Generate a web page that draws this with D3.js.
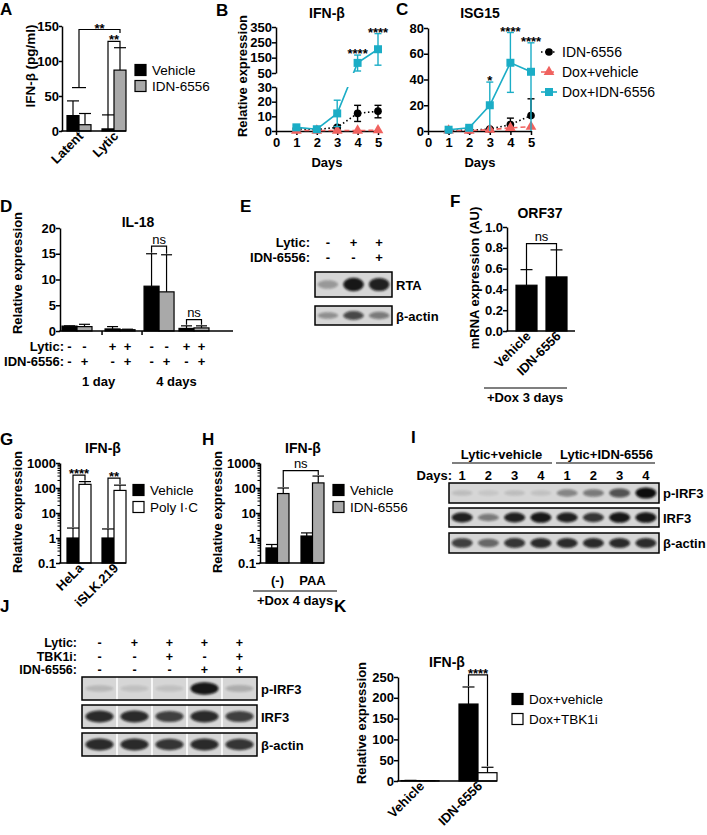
<!DOCTYPE html>
<html lang="en">
<head>
<meta charset="UTF-8">
<title>IFN figure</title>
<script src="https://d3js.org/d3.v7.min.js"></script>
<style>
  body { margin: 0; background: #fff; }
  svg { display: block; font-family: "Liberation Sans", Arial, Helvetica, sans-serif; }
  .axis path, .axis line { stroke: #000; stroke-width: 1.5; }
  .axis text { font-family: "Liberation Sans", Arial, sans-serif; font-size: 13px; font-weight: bold; fill: #000; }
</style>
</head>
<body>
<div id="fig"></div>
<script>
// ---------- data ----------
// A: IFN-b protein
const aGroups = ["Latent", "Lytic"];
const aSeries = ["Vehicle", "IDN-6556"];
const aMeans = [[22, 9], [3, 87]];
const aErrTop = [[43, 25], [23, 119]];

// B / C: time course
const days = [1, 2, 3, 4, 5];
const lineSeries = ["IDN-6556", "Dox+vehicle", "Dox+IDN-6556"];
const bIdn = [1.5, 1, 2.5, 12, 13.5];
const bIdnLo = [1, 0.5, 1.5, 6.5, 9];
const bIdnHi = [2, 1.5, 3.5, 17.5, 17.5];
const bDoxVeh = [0.3, 0.3, 0.3, 0.3, 0.5];
const bDoxIdn = [2.5, 1.2, 12, 116, 205];
const bDoxIdnLo = [1.5, 0.8, 3, 63, 101];
const bDoxIdnHi = [3.5, 1.6, 21, 167, 307];
const bStars = ["", "", "", "****", "****"];

const cIdn = [0.5, 0.5, 1.5, 5, 12];
const cIdnHi = [0.8, 0.8, 2, 10, 25];
const cDoxVeh = [0.5, 0.3, 1, 2.5, 3.3];
const cDoxIdn = [1, 2.5, 20, 53, 46];
const cDoxIdnLo = [0.5, 1.5, 0, 30, 0];
const cDoxIdnHi = [1.5, 3.5, 38, 76.5, 68.5];
const cStars = ["", "", "*", "****", "****"];

// D: IL-18
const dLytic = ["-", "-", "+", "+", "-", "-", "+", "+"];
const dIdn = ["-", "+", "-", "+", "-", "+", "-", "+"];
const dDays = ["1 day", "4 days"];
const dMeans = [0.95, 0.85, 0.4, 0.25, 8.7, 7.6, 0.5, 0.6];
const dErrTop = [1.0, 1.3, 0.85, 0.35, 15, 14.8, 1.0, 1.0];

// E: RTA blot
const eLytic = ["-", "+", "+"];
const eIdn = ["-", "-", "+"];
const eRTA = [0.3, 0.95, 0.9];
const eActin = [0.35, 0.7, 0.45];

// F: ORF37
const fGroups = ["Vehicle", "IDN-6556"];
const fMeans = [0.44, 0.52];
const fErrTop = [0.59, 0.78];

// G / H: log IFN-b
const gGroups = ["HeLa", "iSLK.219"];
const gSeries = ["Vehicle", "Poly I\u00b7C"];
const gMeans = [[1, 140], [1, 80]];
const gErrTop = [[2.5, 180], [2.3, 130]];

const hGroups = ["(-)", "PAA"];
const hSeries = ["Vehicle", "IDN-6556"];
const hMeans = [[0.4, 60], [1.2, 160]];
const hErrTop = [[0.55, 100], [1.6, 300]];

// I: IRF3 blot
const iDays = [1, 2, 3, 4, 1, 2, 3, 4];
const iPIRF3 = [0.12, 0.08, 0.12, 0.1, 0.4, 0.45, 0.65, 1];
const iIRF3 = [0.9, 0.45, 0.9, 0.95, 0.9, 0.8, 0.95, 0.95];
const iActin = [0.75, 0.55, 0.8, 0.85, 0.85, 0.85, 0.85, 0.85];

// J: TBK1i blot
const jLytic = ["-", "+", "+", "+", "+"];
const jTbk = ["-", "-", "+", "-", "+"];
const jIdn = ["-", "-", "-", "+", "+"];
const jPIRF3 = [0.15, 0.1, 0.1, 0.95, 0.2];
const jIRF3 = [0.85, 0.85, 0.75, 0.85, 0.75];
const jActin = [0.85, 0.85, 0.8, 0.85, 0.8];

// K: TBK1i IFN-b
const kGroups = ["Vehicle", "IDN-6556"];
const kSeries = ["Dox+vehicle", "Dox+TBK1i"];
const kMeans = [[1, 0.5], [185, 20]];
const kErrTop = [[1.5, 0.8], [226, 33]];

// ---------- setup ----------
const TEAL = "#1badc6", RED = "#f0625f", GREY = "#a9a9a9";

const svg = d3.select("#fig").append("svg").attr("width", 707).attr("height", 835);
svg.append("rect").attr("width", 707).attr("height", 835).attr("fill", "#fff");
const defs = svg.append("defs");
defs.append("filter").attr("id", "blur").attr("x", "-50%").attr("y", "-50%").attr("width", "200%").attr("height", "200%")
  .append("feGaussianBlur").attr("stdDeviation", 1.3);

function txt(x, y, s, o = {}) {
  return svg.append("text").attr("x", x).attr("y", y).text(s)
    .attr("font-size", o.size || 13).attr("font-weight", o.weight || "bold")
    .attr("text-anchor", o.anchor || "start").attr("fill", "#000");
}
function letter(x, y, s) { txt(x, y, s, { size: 17 }); }
function title(cx, y, s) { txt(cx, y, s, { size: 14, anchor: "middle" }); }
function yLabel(cx, cy, s, size = 13) {
  svg.append("text").attr("transform", `translate(${cx},${cy}) rotate(-90)`)
    .attr("dy", "0.35em").attr("text-anchor", "middle")
    .attr("font-size", size).attr("font-weight", "bold").text(s);
}
function rotLabel(x, y, s) {
  svg.append("text").attr("transform", `translate(${x},${y}) rotate(-45)`)
    .attr("text-anchor", "end").attr("font-size", 13).attr("font-weight", "bold").text(s);
}
function yAxis(scale, x, ticks, fmt, size = 4) {
  const ax = d3.axisLeft(scale).tickValues(ticks).tickSize(size).tickSizeOuter(0).tickPadding(0);
  if (fmt) ax.tickFormat(fmt);
  return svg.append("g").attr("class", "axis").attr("transform", `translate(${x},0)`).call(ax);
}
function minorLogTicks(scale, x) {
  const vals = [];
  [0.1, 1, 10, 100].forEach(d => { for (let k = 2; k <= 9; k++) vals.push(d * k); });
  svg.append("g").selectAll("line").data(vals).join("line")
    .attr("x1", x - 2.5).attr("x2", x).attr("y1", d => scale(d)).attr("y2", d => scale(d))
    .attr("stroke", "#000").attr("stroke-width", 1);
}
function hline(x1, x2, y, w = 1.5) {
  svg.append("line").attr("x1", x1).attr("x2", x2).attr("y1", y).attr("y2", y)
    .attr("stroke", "#000").attr("stroke-width", w);
}
function bracket(x1, x2, yTop, yb1, yb2, label, stars = true) {
  svg.append("path").attr("d", `M${x1},${yb1}V${yTop}H${x2}V${yb2}`)
    .attr("fill", "none").attr("stroke", "#000").attr("stroke-width", 1.2);
  if (stars) txt((x1 + x2) / 2, yTop + 3, label, { anchor: "middle" });
  else txt((x1 + x2) / 2, yTop - 2.5, label, { anchor: "middle", weight: "normal" });
}
function signRow(xs, y, signs, size = 13) {
  signs.forEach((s, i) => txt(xs[i], y, s, { anchor: "middle", size }));
}
function legendBoxes(x, ys, labels, fills, size = 13.5) {
  labels.forEach((l, i) => {
    svg.append("rect").attr("x", x).attr("y", ys[i] - 5.5).attr("width", 11).attr("height", 11)
      .attr("fill", fills[i]).attr("stroke", "#000").attr("stroke-width", 1.2);
    txt(x + 17, ys[i] + 5, l, { size, weight: "normal" });
  });
}

// grouped bar chart
function groupedBars(groups, series, means, errTop, x, y, base, fills) {
  const xin = d3.scaleBand().domain(series).range([0, x.bandwidth()]);
  const rows = groups.flatMap((g, gi) => series.map((s, si) => ({ g, s, si, v: means[gi][si], e: errTop[gi][si] })));
  const w = xin.bandwidth(), cap = Math.min(6, w / 2);
  const gg = svg.append("g");
  gg.selectAll("line.err").data(rows).join("line").attr("class", "err")
    .attr("x1", d => x(d.g) + xin(d.s) + w / 2).attr("x2", d => x(d.g) + xin(d.s) + w / 2)
    .attr("y1", d => y(d.v)).attr("y2", d => y(d.e)).attr("stroke", "#000").attr("stroke-width", 1.2);
  gg.selectAll("line.cap").data(rows).join("line").attr("class", "cap")
    .attr("x1", d => x(d.g) + xin(d.s) + w / 2 - cap).attr("x2", d => x(d.g) + xin(d.s) + w / 2 + cap)
    .attr("y1", d => y(d.e)).attr("y2", d => y(d.e)).attr("stroke", "#000").attr("stroke-width", 1.2);
  gg.selectAll("rect").data(rows).join("rect")
    .attr("x", d => x(d.g) + xin(d.s)).attr("y", d => y(d.v))
    .attr("width", w).attr("height", d => base - y(d.v))
    .attr("fill", d => fills[d.si]).attr("stroke", "#000").attr("stroke-width", 1.2);
  return d => x(d[0]) + xin(d[1]) + w / 2; // center lookup [group, series]
}

// western blot strip
function blot(lanes, y0, h, vals, label, splice) {
  const [x0, x1] = lanes.range();
  svg.append("rect").attr("x", x0).attr("y", y0).attr("width", x1 - x0).attr("height", h).attr("fill", "#d6d6d6");
  svg.append("g").selectAll("ellipse").data(vals).join("ellipse")
    .attr("cx", (d, i) => lanes(i) + lanes.bandwidth() / 2).attr("cy", y0 + h / 2)
    .attr("rx", lanes.bandwidth() * 0.4).attr("ry", d => h * (0.12 + 0.16 * d))
    .attr("fill", "#0a0a0a").attr("opacity", d => d).attr("filter", "url(#blur)");
  if (splice) {
    svg.append("g").selectAll("line").data(d3.range(1, vals.length)).join("line")
      .attr("x1", i => lanes(i)).attr("x2", i => lanes(i)).attr("y1", y0).attr("y2", y0 + h)
      .attr("stroke", "#fff").attr("stroke-width", 2).attr("opacity", 0.8);
  }
  svg.append("rect").attr("x", x0).attr("y", y0).attr("width", x1 - x0).attr("height", h)
    .attr("fill", "none").attr("stroke", "#000").attr("stroke-width", 1.5);
  txt(x1 + 4, y0 + h / 2 + 5, label);
}

// line chart with error bars
function lineSeriesDraw(x, y, mean, lo, hi, color, dash, symbol, symSize, clips) {
  const line = d3.line().x((d, i) => x(days[i])).y(d => y(d));
  (clips || [null]).forEach(c => {
    const p = svg.append("path").datum(mean).attr("d", line).attr("fill", "none")
      .attr("stroke", color).attr("stroke-width", 1.6);
    if (dash) p.attr("stroke-dasharray", dash);
    if (c) p.attr("clip-path", `url(#${c})`);
  });
  const g = svg.append("g");
  mean.forEach((m, i) => {
    const cx = x(days[i]);
    if (hi) {
      const l = lo ? lo[i] : m;
      g.append("line").attr("x1", cx).attr("x2", cx).attr("y1", y(l)).attr("y2", y(hi[i]))
        .attr("stroke", color).attr("stroke-width", 1.4);
      g.append("line").attr("x1", cx - 3.5).attr("x2", cx + 3.5).attr("y1", y(hi[i])).attr("y2", y(hi[i]))
        .attr("stroke", color).attr("stroke-width", 1.4);
      if (lo && lo[i] > 0) g.append("line").attr("x1", cx - 3.5).attr("x2", cx + 3.5).attr("y1", y(l)).attr("y2", y(l))
        .attr("stroke", color).attr("stroke-width", 1.4);
    }
  });
  g.selectAll("path").data(mean).join("path")
    .attr("d", d3.symbol().type(symbol).size(symSize))
    .attr("transform", (d, i) => `translate(${x(days[i])},${y(d)})`)
    .attr("fill", color);
}

// ---------- Panel A ----------
letter(0, 15, "A");
const yA = d3.scaleLinear().domain([0, 150]).range([131, 26]);
const xA = d3.scaleBand().domain(aGroups).range([67, 126]).paddingInner(11 / 35);
const cA = groupedBars(aGroups, aSeries, aMeans, aErrTop, xA, yA, 131, ["#000", GREY]);
yAxis(yA, 62, [0, 50, 100, 150], null, 3);
hline(61.25, 126, 131);
aGroups.forEach(g => rotLabel(xA(g) + xA.bandwidth() / 2 + 5, 137, g));
yLabel(30, 66, "IFN-\u03b2 (pg/ml)", 13.5);
hline(cA(["Latent", "Vehicle"]) - 1, cA(["Latent", "IDN-6556"]) + 1, yA(62), 1.2);
bracket((cA(["Latent", "Vehicle"]) + cA(["Latent", "IDN-6556"])) / 2, cA(["Lytic", "IDN-6556"]), yA(145), yA(62), yA(140), "**");
bracket(cA(["Lytic", "Vehicle"]), cA(["Lytic", "IDN-6556"]), yA(128), yA(aErrTop[1][0]), yA(aErrTop[1][1]), "**");
legendBoxes(135, [70, 86], aSeries, ["#000", GREY]);

// ---------- Panel B ----------
letter(216, 16, "B");
title(327, 18, "IFN-\u03b2");
const xB = d3.scaleLinear().domain([0, 5]).range([276, 378]);
const yB = d3.scaleLinear().domain([0, 30, 50, 350]).range([131, 87, 73, 27]);
const yBlow = d3.scaleLinear().domain([0, 30]).range([131, 87]);
const yBhigh = d3.scaleLinear().domain([50, 350]).range([73, 27]);
defs.append("clipPath").attr("id", "bLow").append("rect").attr("x", 250).attr("y", 87).attr("width", 160).attr("height", 60);
defs.append("clipPath").attr("id", "bHigh").append("rect").attr("x", 250).attr("y", 0).attr("width", 160).attr("height", 73);
yAxis(yBlow, 276, [0, 10, 20, 30]);
yAxis(yBhigh, 276, [50, 150, 250, 350]);
svg.append("g").attr("class", "axis").attr("transform", "translate(0,131)")
  .call(d3.axisBottom(xB).tickValues([0, 1, 2, 3, 4, 5]).tickSize(4).tickSizeOuter(0).tickPadding(3).tickFormat(d3.format("d")));
txt(327, 167, "Days", { anchor: "middle" });
yLabel(242, 76, "Relative expression");
lineSeriesDraw(xB, yB, bIdn, bIdnLo, bIdnHi, "#000", "1.5,2.5", d3.symbolCircle, 46, ["bLow", "bHigh"]);
lineSeriesDraw(xB, yB, bDoxVeh, null, null, RED, "5,3", d3.symbolTriangle, 50, ["bLow", "bHigh"]);
lineSeriesDraw(xB, yB, bDoxIdn, bDoxIdnLo, bDoxIdnHi, TEAL, null, d3.symbolSquare, 64, ["bLow", "bHigh"]);
bStars.forEach((s, i) => { if (s) txt(xB(days[i]), yB(bDoxIdnHi[i]) + 3, s, { anchor: "middle" }); });

// ---------- Panel C ----------
letter(396, 15, "C");
title(480, 18, "ISG15");
const xC = d3.scaleLinear().domain([0, 5]).range([428, 531]);
const yC = d3.scaleLinear().domain([0, 80]).range([131, 28]);
yAxis(yC, 428, [0, 20, 40, 60, 80]);
svg.append("g").attr("class", "axis").attr("transform", "translate(0,131)")
  .call(d3.axisBottom(xC).tickValues([0, 1, 2, 3, 4, 5]).tickSize(4).tickSizeOuter(0).tickPadding(3).tickFormat(d3.format("d")));
txt(480, 167, "Days", { anchor: "middle" });
lineSeriesDraw(xC, yC, cIdn, null, cIdnHi, "#000", "1.5,2.5", d3.symbolCircle, 46);
lineSeriesDraw(xC, yC, cDoxVeh, null, null, RED, "5,3", d3.symbolTriangle, 50);
lineSeriesDraw(xC, yC, cDoxIdn, cDoxIdnLo, cDoxIdnHi, TEAL, null, d3.symbolSquare, 64);
cStars.forEach((s, i) => { if (s) txt(xC(days[i]), yC(cDoxIdnHi[i]) + 3, s, { anchor: "middle" }); });
// legend
const cLeg = [["#000", "1.5,2.5", d3.symbolCircle, 46], [RED, "5,3", d3.symbolTriangle, 50], [TEAL, null, d3.symbolSquare, 64]];
lineSeries.forEach((name, i) => {
  const ly = 52 + i * 20, [col, dash, sym, sz] = cLeg[i];
  const l = svg.append("line").attr("x1", 541).attr("x2", 557).attr("y1", ly).attr("y2", ly).attr("stroke", col).attr("stroke-width", 1.6);
  if (dash) l.attr("stroke-dasharray", dash);
  svg.append("path").attr("d", d3.symbol().type(sym).size(sz)).attr("transform", `translate(549,${ly})`).attr("fill", col);
  txt(562, ly + 5, name, { size: 14, weight: "normal" });
});

// ---------- Panel D ----------
letter(0, 212, "D");
title(138, 227, "IL-18");
const yD = d3.scaleLinear().domain([0, 20]).range([331, 228]);
const dSlots = [0, 1, 2.87, 3.87, 5.47, 6.47, 7.8, 8.8];
const xD = d3.scaleLinear().domain([0, 1]).range([62, 77]);
const dW = xD(1) - xD(0);
const dRows = dMeans.map((v, i) => ({ v, e: dErrTop[i], x: xD(dSlots[i]), fill: dIdn[i] === "+" ? GREY : "#000" }));
const gD = svg.append("g");
gD.selectAll("line.err").data(dRows).join("line").attr("x1", d => d.x + dW / 2).attr("x2", d => d.x + dW / 2)
  .attr("y1", d => yD(d.v)).attr("y2", d => yD(d.e)).attr("stroke", "#000").attr("stroke-width", 1.2);
gD.selectAll("line.cap").data(dRows).join("line").attr("x1", d => d.x + 2).attr("x2", d => d.x + dW - 2)
  .attr("y1", d => yD(d.e)).attr("y2", d => yD(d.e)).attr("stroke", "#000").attr("stroke-width", 1.2);
gD.selectAll("rect").data(dRows).join("rect").attr("x", d => d.x).attr("y", d => yD(d.v))
  .attr("width", dW).attr("height", d => 331 - yD(d.v)).attr("fill", d => d.fill)
  .attr("stroke", "#000").attr("stroke-width", 1.2);
yAxis(yD, 60, [0, 5, 10, 15, 20]);
hline(59.25, 233, 331);
[xD(dSlots[2]) - 3, xD(dSlots[4]) - 2].forEach(x => svg.append("line").attr("x1", x).attr("x2", x).attr("y1", 331).attr("y2", 335).attr("stroke", "#000").attr("stroke-width", 1.5));
const dCx = dRows.map(d => d.x + dW / 2);
txt(64, 351, "Lytic:", { anchor: "end" });
txt(64, 366, "IDN-6556:", { anchor: "end" });
signRow(dCx, 351, dLytic);
signRow(dCx, 366, dIdn);
txt((dCx[0] + dCx[3]) / 2, 386, dDays[0], { anchor: "middle" });
txt((dCx[4] + dCx[7]) / 2, 386, dDays[1], { anchor: "middle" });
yLabel(17, 273, "Relative expression");
bracket(dCx[4], dCx[5], yD(16.5), yD(dErrTop[4]) - 1, yD(dErrTop[5]) - 1, "ns", false);
bracket(dCx[6], dCx[7], yD(2.2), yD(dErrTop[6]) - 1, yD(dErrTop[7]) - 1, "ns", false);

// ---------- Panel E ----------
letter(240, 212, "E");
const eLanes = d3.scaleBand().domain(d3.range(3)).range([315, 392]);
const eCx = d3.range(3).map(i => eLanes(i) + eLanes.bandwidth() / 2);
txt(310, 247, "Lytic:", { anchor: "end" });
txt(310, 262, "IDN-6556:", { anchor: "end" });
signRow(eCx, 247, eLytic);
signRow(eCx, 262, eIdn);
blot(eLanes, 272, 25, eRTA, "RTA");
blot(eLanes, 306, 19, eActin, "\u03b2-actin");

// ---------- Panel F ----------
letter(450, 207, "F");
title(540, 218, "ORF37");
const yF = d3.scaleLinear().domain([0, 1]).range([331, 227]);
const xF = d3.scaleBand().domain(fGroups).range([516, 567]).paddingInner(9 / 30);
const cF = groupedBars(fGroups, ["m"], fMeans.map(v => [v]), fErrTop.map(v => [v]), xF, yF, 331, ["#000"]);
yAxis(yF, 507, [0, 0.2, 0.4, 0.6, 0.8, 1.0], d3.format(".1f"));
hline(506.25, 575, 331);
fGroups.forEach(g => rotLabel(cF([g, "m"]) + 5, 337, g));
yLabel(474, 278, "mRNA expression (AU)");
bracket(cF(["Vehicle", "m"]), cF(["IDN-6556", "m"]), yF(0.84), yF(fErrTop[0]), yF(fErrTop[1]), "ns", false);
hline(484, 567, 388, 1.2);
txt(525, 402, "+Dox 3 days", { anchor: "middle" });

// ---------- Panel G ----------
letter(0, 445, "G");
title(103, 453, "IFN-\u03b2");
const yG = d3.scaleLog().domain([0.1, 1000]).range([563, 463]);
const xG = d3.scaleBand().domain(gGroups).range([67, 126]).paddingInner(11 / 35);
const cG = groupedBars(gGroups, gSeries, gMeans, gErrTop, xG, yG, 563, ["#000", "#fff"]);
yAxis(yG, 60, [0.1, 1, 10, 100, 1000], d => String(d));
minorLogTicks(yG, 60);
hline(59.25, 126, 563);
gGroups.forEach(g => rotLabel(xG(g) + xG.bandwidth() / 2 + 5, 569, g));
yLabel(17, 512, "Relative expression");
bracket(cG(["HeLa", "Vehicle"]), cG(["HeLa", gSeries[1]]), yG(330), yG(2.5) - 1, yG(180) - 1, "****");
bracket(cG(["iSLK.219", "Vehicle"]), cG(["iSLK.219", gSeries[1]]), yG(250), yG(2.3) - 1, yG(130) - 1, "**");
legendBoxes(133, [490, 507], gSeries, ["#000", "#fff"]);

// ---------- Panel H ----------
letter(202, 445, "H");
title(303, 453, "IFN-\u03b2");
const xH = d3.scaleBand().domain(hGroups).range([266, 324]).paddingInner(12 / 35);
const cH = groupedBars(hGroups, hSeries, hMeans, hErrTop, xH, yG, 563, ["#000", GREY]);
yAxis(yG, 260, [0.1, 1, 10, 100, 1000], d => String(d));
minorLogTicks(yG, 260);
hline(259.25, 324, 563);
hGroups.forEach(g => txt(xH(g) + xH.bandwidth() / 2, 585, g, { anchor: "middle" }));
hline(253, 337, 591, 1.2);
txt(295, 605, "+Dox 4 days", { anchor: "middle" });
yLabel(217, 512, "Relative expression");
bracket(cH(["(-)", "IDN-6556"]), cH(["PAA", "IDN-6556"]), yG(500), yG(100) - 1, yG(300) - 1, "ns", false);
legendBoxes(333, [490, 507], hSeries, ["#000", GREY]);

// ---------- Panel I ----------
letter(411, 443, "I");
const iLanes = d3.scaleBand().domain(d3.range(8)).range([449, 659]);
const iCx = d3.range(8).map(i => iLanes(i) + iLanes.bandwidth() / 2);
txt((iCx[0] + iCx[3]) / 2, 459, "Lytic+vehicle", { anchor: "middle" });
txt((iCx[4] + iCx[7]) / 2, 459, "Lytic+IDN-6556", { anchor: "middle" });
hline(452, 552, 463, 1.2);
hline(556, 655, 463, 1.2);
txt(452, 480, "Days:", { anchor: "end" });
signRow(iCx, 480, iDays.map(String));
blot(iLanes, 483, 20, iPIRF3, "p-IRF3");
blot(iLanes, 508, 19, iIRF3, "IRF3");
blot(iLanes, 533, 20, iActin, "\u03b2-actin");

// ---------- Panel J ----------
letter(0, 612, "J");
const jLanes = d3.scaleBand().domain(d3.range(5)).range([82, 257]);
const jCx = d3.range(5).map(i => jLanes(i) + jLanes.bandwidth() / 2);
txt(77, 647, "Lytic:", { anchor: "end", size: 12.5 });
txt(77, 660.5, "TBK1i:", { anchor: "end", size: 12.5 });
txt(77, 674, "IDN-6556:", { anchor: "end", size: 12.5 });
signRow(jCx, 647, jLytic, 12.5);
signRow(jCx, 660.5, jTbk, 12.5);
signRow(jCx, 674, jIdn, 12.5);
blot(jLanes, 677, 23, jPIRF3, "p-IRF3", true);
blot(jLanes, 705, 23, jIRF3, "IRF3", true);
blot(jLanes, 733, 23, jActin, "\u03b2-actin", true);

// ---------- Panel K ----------
letter(334, 612, "K");
title(447, 667, "IFN-\u03b2");
const yK = d3.scaleLinear().domain([0, 250]).range([781, 677]);
const xK = d3.scaleBand().domain(kGroups).range([401, 497]).paddingInner(20 / 58);
const cK = groupedBars(kGroups, kSeries, kMeans, kErrTop, xK, yK, 781, ["#000", "#fff"]);
yAxis(yK, 398, [0, 50, 100, 150, 200, 250]);
hline(397.25, 497, 781);
kGroups.forEach(g => rotLabel(xK(g) + xK.bandwidth() / 2 + 5, 787, g));
yLabel(361, 723, "Relative expression");
bracket(cK(["IDN-6556", kSeries[0]]), cK(["IDN-6556", kSeries[1]]), yK(255), yK(kErrTop[1][0]) - 1, yK(kErrTop[1][1]) - 1, "****");
legendBoxes(512, [699, 719], kSeries, ["#000", "#fff"]);
</script>
</body>
</html>
